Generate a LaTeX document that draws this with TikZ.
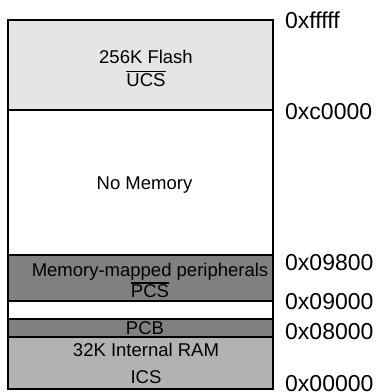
\documentclass[tikz,border=0pt]{standalone}
\usepackage{fontspec}
\setmainfont{Liberation Sans}
\usetikzlibrary{positioning}
\definecolor{flashgray}{RGB}{229,229,229}
\definecolor{perigray}{RGB}{128,128,128}
\definecolor{ramgray}{RGB}{178,178,178}
% active-low signal name with a bar over it
\newcommand{\lowsig}[1]{\leavevmode\vbox{\hrule height 1.3pt\kern 1.2pt\hbox{#1}}}
\tikzset{
	region/.style={draw, line width=1.8pt, minimum width=265pt, inner sep=0pt},
	flashreg/.style={region, fill=flashgray},
	emptyreg/.style={region, fill=white},
	perireg/.style={region, fill=perigray},
	ramreg/.style={region, fill=ramgray},
	txt/.style={inner sep=0pt, align=center, font=\fontsize{18.5}{23}\selectfont},
	addr/.style={anchor=west, inner sep=0pt, font=\fontsize{23}{26}\selectfont},
}

\begin{document}
\begin{tikzpicture}[x=1pt, y=-1pt]
	\useasboundingbox (0,0) rectangle (377,392);
	% memory regions, top to bottom
	\node[flashreg, minimum height=90pt] at (140.5,65) (flash) {};
	\node[emptyreg, minimum height=145pt] at (140.5,182.5) (nomem) {};
	\node[perireg, minimum height=46pt] at (140.5,278) (periph) {};
	\node[emptyreg, minimum height=18pt] at (140.5,310) (gap) {};
	\node[perireg, minimum height=18pt] at (140.5,328) (pcb) {};
	\node[ramreg, minimum height=52pt] at (140.5,363) (ram) {};
	% region texts
	\node[txt] at (146,68.3) (flashTxt) {256K Flash\\\lowsig{UCS}};
	\node[txt] at (144.5,185) (nomemTxt) {No Memory};
	\node[txt, font=\fontsize{18.5}{21}\selectfont] at (150,280.5) (periphTxt) {Memory-mapped peripherals\\\lowsig{PCS}};
	\node[txt] at (145,328) (pcbTxt) {PCB};
	\node[txt, font=\fontsize{18.5}{27}\selectfont] at (146,363.5) (ramTxt) {32K Internal RAM\\ICS};
	% addresses
	\node[addr] at (285,20) (aTop) {0xfffff};
	\node[addr] at (285,111.5) (aFlash) {0xc0000};
	\node[addr] at (285,263) (aPeriph) {0x09800};
	\node[addr] at (285,302) (aGap) {0x09000};
	\node[addr] at (285,332) (aPcb) {0x08000};
	\node[addr] at (285,384) (aRam) {0x00000};
\end{tikzpicture}
\end{document}
